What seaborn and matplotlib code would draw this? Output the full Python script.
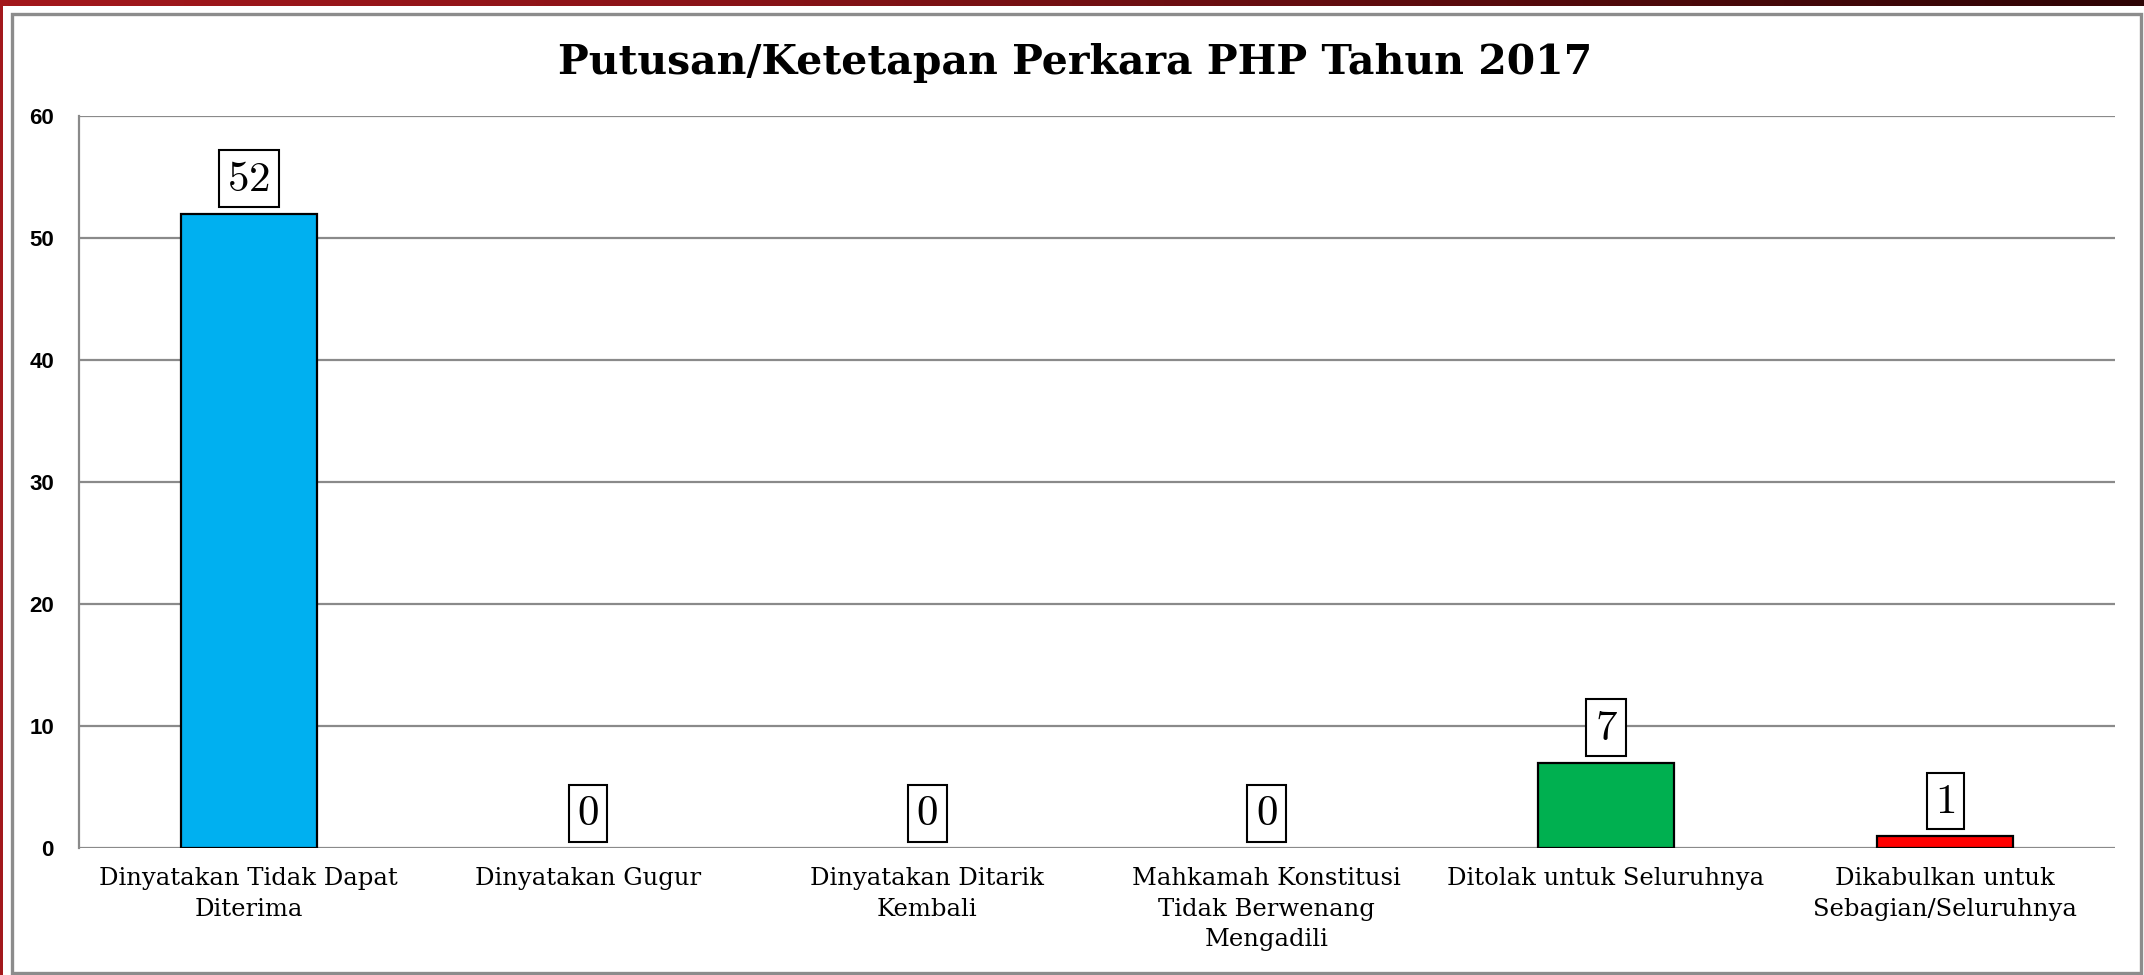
import numpy as np
import pandas as pd
import seaborn as sns
from matplotlib import pyplot as plt
from matplotlib.patches import Rectangle
from matplotlib.path import Path
from matplotlib.colors import LinearSegmentedColormap

CATEGORIES = [
    "Dinyatakan Tidak Dapat\nDiterima",
    "Dinyatakan Gugur",
    "Dinyatakan Ditarik\nKembali",
    "Mahkamah Konstitusi\nTidak Berwenang\nMengadili",
    "Ditolak untuk Seluruhnya",
    "Dikabulkan untuk\nSebagian/Seluruhnya",
]
VALUES = [52, 0, 0, 0, 7, 1]
BAR_COLORS = ["#00B0F0", "#00B0F0", "#00B0F0", "#00B0F0", "#00B050", "#FF0000"]
Y_TICKS = [0, 10, 20, 30, 40, 50, 60]
TITLE = "Putusan/Ketetapan Perkara PHP Tahun 2017"

W, H = 2144, 975

sns.set_style("white")
plt.rcParams["text.color"] = "black"
plt.rcParams["xtick.color"] = "black"
plt.rcParams["ytick.color"] = "black"
plt.rcParams["mathtext.fontset"] = "cm"


def label_box(x0, y0, width, height, mutation_size):
    # tall box around the number: fixed height, small side padding
    px = 0.2 * mutation_size
    half_h = 0.66 * mutation_size
    cy = y0 + height / 2
    verts = [(x0 - px, cy - half_h), (x0 + width + px, cy - half_h),
             (x0 + width + px, cy + half_h), (x0 - px, cy + half_h),
             (x0 - px, cy - half_h)]
    return Path(verts, closed=True)


fig = plt.figure(figsize=(W / 100, H / 100), dpi=100)

# dark red frame behind the white card
bg = fig.add_axes([0, 0, 1, 1], zorder=-10)
bg.set_axis_off()
red_cmap = LinearSegmentedColormap.from_list("frame", ["#a3181c", "#8a1418", "#5c0c0e", "#2e0405"])
grad = np.linspace(0, 1, 256).reshape(1, -1)
bg.imshow(grad, cmap=red_cmap, aspect="auto", extent=[0, 1, 0, 1])
bg.set_xlim(0, 1)
bg.set_ylim(0, 1)
bg.add_patch(Rectangle((3 / W, 0), 1, (H - 6) / H, facecolor="white", edgecolor="none"))
bg.add_patch(Rectangle((12 / W, 2 / H), (2141 - 12) / W, (973 - 14) / H,
                       facecolor="white", edgecolor="#8c8c8c", linewidth=2.4))

ax = fig.add_axes([79 / W, (H - 848) / H, (2115 - 79) / W, (848 - 116) / H])
df = pd.DataFrame({"kategori": CATEGORIES, "jumlah": VALUES})
sns.barplot(data=df, x="kategori", y="jumlah", hue="kategori", palette=BAR_COLORS,
            saturation=1, width=0.4, edgecolor="black", linewidth=1.6, legend=False,
            ax=ax, zorder=3)

# no outline on empty bars
for p in ax.patches:
    if p.get_height() == 0:
        p.set_linewidth(0)

# boxed value labels (computer-modern digits like the original)
for i, v in enumerate(VALUES):
    ax.annotate(f"${v}$", xy=(i, v), xytext=(0, 25), textcoords="offset points",
                ha="center", va="center", fontsize=31,
                bbox=dict(boxstyle=label_box, facecolor="white",
                          edgecolor="black", linewidth=1.5), zorder=5)

ax.set_ylim(0, 60)
ax.set_xlim(-0.5, len(CATEGORIES) - 0.5)
ax.set_yticks(Y_TICKS)
ax.set_yticklabels([str(t) for t in Y_TICKS], fontsize=16, fontweight="bold",
                   family=["Liberation Sans Narrow", "Liberation Sans"])
ax.set_xticks(range(len(CATEGORIES)))
ax.set_xticklabels(CATEGORIES, fontsize=17.5, family="DejaVu Serif", linespacing=1.4)
ax.tick_params(axis="y", length=0, pad=18)
ax.tick_params(axis="x", length=0, pad=14)
ax.set_xlabel("")
ax.set_ylabel("")
ax.yaxis.grid(True, color="#8a8a8a", linewidth=1.6, zorder=0)
ax.set_axisbelow(True)
for side in ["top", "right", "bottom"]:
    ax.spines[side].set_visible(False)
ax.spines["left"].set_color("#8a8a8a")
ax.spines["left"].set_linewidth(1.6)
ax.set_facecolor("none")

fig.text(1075 / W, 1 - 63 / H, TITLE, ha="center", va="center", fontsize=29.5,
         fontweight="bold", family="DejaVu Serif")

fig.savefig("out.png", dpi=100)
